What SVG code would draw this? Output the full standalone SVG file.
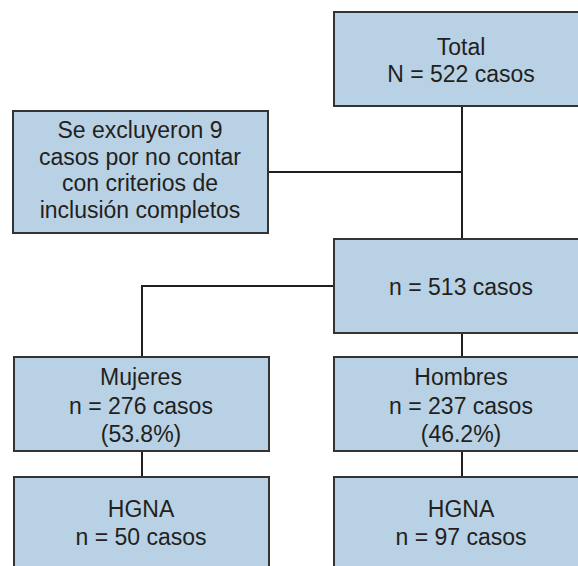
<svg xmlns="http://www.w3.org/2000/svg" width="578" height="566" viewBox="0 0 578 566">
<style>
.box{fill:#b9d1e4;stroke:#333;stroke-width:2}
.t{font-family:"Liberation Sans",Arial,sans-serif;font-size:23px;fill:#231f20;text-anchor:middle}
.c{fill:none;stroke:#231f20;stroke-width:2}
</style>
<rect width="578" height="566" fill="#fff"/>
<g id="connectors">
<path class="c" d="M462 106V239M268 172H462M334 286H142V357M462 333V357M142 451V477M462 451V477"/>
</g>
<g id="total">
<rect class="box" x="334" y="12" width="256" height="94"/>
<text class="t" x="461" y="55">Total</text>
<text class="t" x="461" y="82">N = 522 casos</text>
</g>
<g id="excluidos">
<rect class="box" x="13" y="111" width="255" height="122"/>
<text class="t" x="140" y="138">Se excluyeron 9</text>
<text class="t" x="140" y="164.5">casos por no contar</text>
<text class="t" x="140" y="191">con criterios de</text>
<text class="t" x="140" y="217.5">inclusión completos</text>
</g>
<g id="n513">
<rect class="box" x="334" y="239" width="256" height="94"/>
<text class="t" x="461" y="295">n = 513 casos</text>
</g>
<g id="mujeres">
<rect class="box" x="14" y="357" width="255" height="94"/>
<text class="t" x="141" y="385">Mujeres</text>
<text class="t" x="141" y="413.5">n = 276 casos</text>
<text class="t" x="141" y="442">(53.8%)</text>
</g>
<g id="hombres">
<rect class="box" x="334" y="357" width="256" height="94"/>
<text class="t" x="461" y="385">Hombres</text>
<text class="t" x="461" y="413.5">n = 237 casos</text>
<text class="t" x="461" y="442">(46.2%)</text>
</g>
<g id="hgna-m">
<rect class="box" x="14" y="477" width="255" height="100"/>
<text class="t" x="141" y="517">HGNA</text>
<text class="t" x="141" y="545">n = 50 casos</text>
</g>
<g id="hgna-h">
<rect class="box" x="334" y="477" width="256" height="100"/>
<text class="t" x="461" y="517">HGNA</text>
<text class="t" x="461" y="545">n = 97 casos</text>
</g>
</svg>
